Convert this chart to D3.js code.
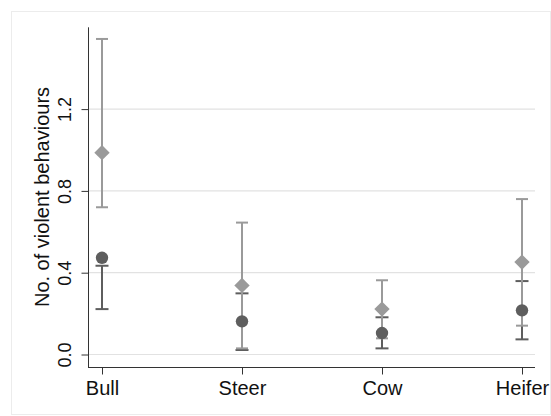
<!DOCTYPE html>
<html>
<head>
<meta charset="utf-8">
<script src="https://cdn.jsdelivr.net/npm/d3@7"></script>
<style>
  body { margin: 0; background: #fff; }
  svg { font-family: Arial, "Liberation Sans", sans-serif; }
</style>
</head>
<body>
<div class="canvas"></div>
<script>
// data
const categories = ['Bull', 'Steer', 'Cow', 'Heifer'];
// light series (diamonds)
const lightMean = [0.987, 0.338, 0.222, 0.452];
const lightLow  = [0.720, 0.030, 0.079, 0.141];
const lightHigh = [1.543, 0.645, 0.363, 0.760];
// dark series (circles)
const darkMean = [0.473, 0.162, 0.105, 0.216];
const darkLow  = [0.222, 0.022, 0.030, 0.074];
const darkHigh = [0.434, 0.299, 0.182, 0.359];
const yTicks = [0.0, 0.4, 0.8, 1.2];

const dims = {width: 551, height: 416};
const lightCol = '#9a9a9a';
const darkCol = '#5e5e5e';

const svg = d3.select('.canvas')
  .append('svg')
  .attr('width', dims.width)
  .attr('height', dims.height);

// faint outer frame
svg.append('rect')
  .attr('x', 11.5).attr('y', 11.5)
  .attr('width', 539).attr('height', 403)
  .attr('fill', 'none')
  .attr('stroke', '#ececec');

const x = d3.scalePoint()
  .domain(categories)
  .range([102, 522]);

const y = d3.scaleLinear()
  .domain([0, 1.2])
  .range([354.5, 109.1]);

// gridlines
svg.append('g')
  .selectAll('line')
  .data(yTicks)
  .enter().append('line')
  .attr('x1', 89).attr('x2', 535)
  .attr('y1', d => y(d)).attr('y2', d => y(d))
  .attr('stroke', '#e2e2e2')
  .attr('stroke-width', 1.2);

// y axis
const yAxis = svg.append('g')
  .attr('transform', 'translate(88.5,0)')
  .call(d3.axisLeft(y).tickValues(yTicks).tickFormat(d3.format('.1f')).tickSizeOuter(0).tickSize(7));
yAxis.select('.domain').attr('d', `M0,${y(1.6)}V368`).attr('stroke', '#333');
yAxis.selectAll('.tick line').attr('stroke', '#333');
yAxis.selectAll('.tick text')
  .attr('transform', 'rotate(-90)')
  .attr('x', 0).attr('y', -18)
  .attr('dy', 0)
  .attr('text-anchor', 'middle')
  .attr('fill', '#111')
  .style('font-size', '18px');

// x axis
const xAxis = svg.append('g')
  .attr('transform', 'translate(0,367.5)')
  .call(d3.axisBottom(x).tickSizeOuter(0).tickSize(7));
xAxis.select('.domain').attr('d', 'M88,0H535').attr('stroke', '#333');
xAxis.selectAll('.tick line').attr('stroke', '#333');
xAxis.selectAll('.tick text')
  .attr('y', 13)
  .attr('fill', '#111')
  .style('font-size', '20px');

// y label
svg.append('text')
  .attr('transform', 'translate(49,197) rotate(-90)')
  .attr('text-anchor', 'middle')
  .attr('fill', '#111')
  .style('font-size', '20px')
  .text('No. of violent behaviours');

// error bars
const drawBars = (lows, highs, col, cap) => {
  const g = svg.append('g');
  categories.forEach((c, i) => {
    const cx = x(c);
    g.append('line')
      .attr('x1', cx).attr('x2', cx)
      .attr('y1', y(lows[i])).attr('y2', y(highs[i]))
      .attr('stroke', col).attr('stroke-width', 2);
    [lows[i], highs[i]].forEach(v => {
      g.append('line')
        .attr('x1', cx - cap).attr('x2', cx + cap)
        .attr('y1', y(v)).attr('y2', y(v))
        .attr('stroke', col).attr('stroke-width', 2);
    });
  });
};
drawBars(darkLow, darkHigh, darkCol, 6.5);
drawBars(lightLow, lightHigh, lightCol, 6);

// markers
svg.append('g')
  .selectAll('path')
  .data(lightMean)
  .enter().append('path')
  .attr('d', d3.symbol().type(d3.symbolDiamond2).size(150))
  .attr('transform', (d, i) => `translate(${x(categories[i])},${y(d)})`)
  .attr('fill', lightCol);

svg.append('g')
  .selectAll('circle')
  .data(darkMean)
  .enter().append('circle')
  .attr('cx', (d, i) => x(categories[i]))
  .attr('cy', d => y(d))
  .attr('r', 6.2)
  .attr('fill', darkCol);
</script>
</body>
</html>
